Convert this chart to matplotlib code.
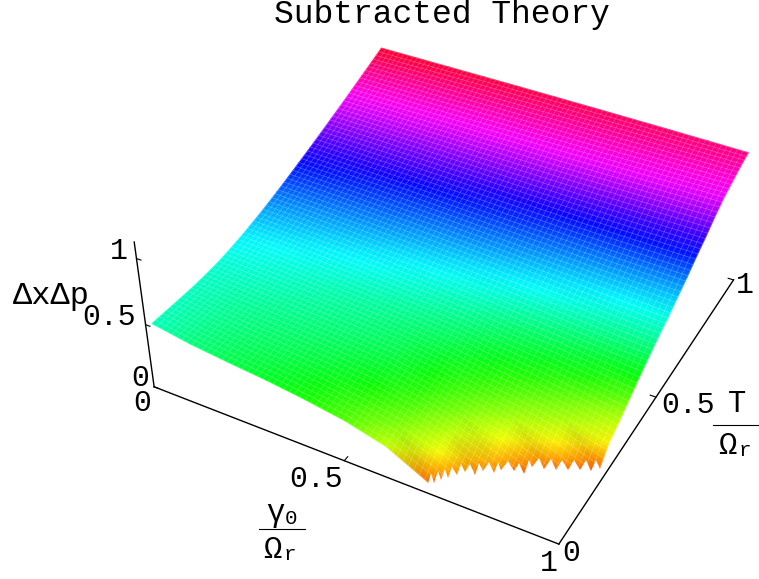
import numpy as np
import matplotlib
matplotlib.use("Agg")
import matplotlib.pyplot as plt
from matplotlib.collections import LineCollection
from matplotlib.colors import Normalize
from matplotlib.path import Path

plt.rcParams['font.family'] = ['Liberation Mono', 'DejaVu Sans']

gamma = [0, 0.1, 0.2, 0.3, 0.4, 0.5, 0.6, 0.7, 0.8, 0.9, 1]
temp = [0, 0.05, 0.1, 0.15, 0.2, 0.25, 0.3, 0.35, 0.4, 0.45, 0.5,
        0.55, 0.6, 0.65, 0.7, 0.75, 0.8, 0.85, 0.9, 0.95, 1]

# one row per temp value, one column per gamma value
dxdp = [
    [.500, .450, .415, .385, .345, .295, .215, .060, -.100, -.300, -.500],
    [.500, .458, .428, .400, .365, .320, .260, .170, .020, -.170, -.350],
    [.500, .466, .440, .418, .392, .355, .300, .220, .110, -.020, -.200],
    [.501, .475, .455, .435, .415, .385, .330, .260, .180, .050, -.070],
    [.507, .490, .473, .455, .435, .410, .360, .300, .235, .160, .030],
    [.518, .505, .490, .473, .453, .428, .390, .335, .285, .230, .160],
    [.537, .524, .509, .491, .471, .449, .420, .370, .330, .280, .220],
    [.561, .548, .533, .516, .497, .476, .450, .410, .380, .340, .290],
    [.589, .576, .561, .545, .527, .507, .486, .450, .425, .390, .360],
    [.621, .608, .594, .578, .561, .543, .523, .498, .472, .445, .420],
    [.656, .644, .630, .616, .600, .583, .565, .545, .523, .500, .480],
    [.694, .682, .669, .655, .640, .624, .607, .588, .568, .549, .530],
    [.733, .722, .710, .697, .683, .668, .652, .635, .618, .604, .590],
    [.773, .762, .751, .739, .726, .712, .698, .683, .669, .660, .650],
    [.815, .806, .796, .785, .774, .762, .751, .740, .732, .726, .720],
    [.858, .850, .841, .832, .822, .812, .803, .795, .789, .784, .780],
    [.901, .894, .887, .880, .873, .866, .860, .856, .853, .851, .850],
    [.946, .940, .934, .929, .924, .920, .917, .914, .912, .911, .910],
    [.991, .986, .981, .977, .973, .969, .965, .961, .958, .954, .950],
    [1.036, 1.032, 1.028, 1.024, 1.020, 1.016, 1.011, 1.006, 1.001, .996, .990],
    [1.082, 1.077, 1.072, 1.067, 1.062, 1.056, 1.050, 1.043, 1.036, 1.028, 1.020],
]

# where the surface stops at the bottom of the plot range (the teeth)
tip_gamma = [.702, .712, .721, .730, .743, .754, .777, .786, .810, .818,
             .843, .866, .871, .896, .920, .942, .964, .986, 1.0]
tip_temp = [.000, .006, .022, .034, .049, .065, .068, .086, .092, .109,
            .117, .121, .147, .155, .163, .174, .187, .196, .210]

z_ticks = [0, 0.5, 1]
gamma_ticks = [0.5]
temp_ticks = [0.5, 1]

# camera: (gamma, T, z) -> pixel, fitted on points
lo, hi = -.01, 1.01
pts3d = [(lo, lo, 0), (hi, lo, 0), (.5, lo, 0), (hi, 1, 0), (hi, .5, 0),
         (lo, lo, 1), (lo, lo, .5), (0, 0, .5), (0, 1, 1.082), (1, 1, 1.02), (1, .56, .54),
         (0, .35, .561), (0, .6, .733)]
pts2d = [(154, 387), (558, 546), (346, 459), (733, 279), (657, 397),
         (137, 258), (145, 323), (152, 322), (382, 47), (748, 153), (670, 313),
         (240, 240), (300, 163)]
rows = []
rhs = []
for (a, b, c), (u, v) in zip(pts3d, pts2d):
    rows.append([a, b, c, 1, 0, 0, 0, 0, -u*a, -u*b, -u*c])
    rows.append([0, 0, 0, 0, a, b, c, 1, -v*a, -v*b, -v*c])
    rhs += [u, v]
m = np.linalg.lstsq(np.array(rows, float), np.array(rhs, float), rcond=None)[0]


def project(a, b, c):
    a, b, c = np.asarray(a, float), np.asarray(b, float), np.asarray(c, float)
    w = m[8]*a + m[9]*b + m[10]*c + 1
    return (m[0]*a + m[1]*b + m[2]*c + m[3])/w, (m[4]*a + m[5]*b + m[6]*c + m[7])/w


fig = plt.figure(figsize=(7.59, 5.79), dpi=100)
ax = fig.add_axes([0, 0, 1, 1])
ax.set_xlim(0, 759)
ax.set_ylim(579, 0)
ax.axis("off")

G, T = np.meshgrid(gamma, temp)
Z = np.array(dxdp)
X, Y = project(G, T, Z)
surf = ax.pcolormesh(X, Y, Z, shading="gouraud", cmap="hsv", norm=Normalize(-0.02, 1.10), zorder=2)

# clip edge with teeth
edge_x = []
edge_y = []
for i in range(len(tip_gamma)):
    px, py = project(tip_gamma[i], tip_temp[i], 0.05)
    edge_x.append(float(px))
    edge_y.append(float(py))
    if i < len(tip_gamma) - 1:
        px, py = project((tip_gamma[i] + tip_gamma[i+1])/2, (tip_temp[i] + tip_temp[i+1])/2, 0.13)
        edge_x.append(float(px))
        edge_y.append(float(py))
verts = list(zip(edge_x, edge_y))
verts += [(800, edge_y[-1]), (800, -50), (-50, -50), (-50, 640), (edge_x[0], 640), (edge_x[0], edge_y[0])]
clip = Path(verts)
surf.set_clip_path(clip, ax.transData)

# faint mesh on the surface
segs = []
for v in np.linspace(0, 1, 76):
    zl = [np.interp(v, gamma, r) for r in Z]
    segs.append(np.column_stack(project(np.full(len(temp), v), temp, zl)))
    zl = [np.interp(v, temp, Z[:, j]) for j in range(len(gamma))]
    segs.append(np.column_stack(project(gamma, np.full(len(gamma), v), zl)))
mesh = LineCollection(segs, colors="white", linewidths=0.5, alpha=0.28, zorder=3)
ax.add_collection(mesh)
mesh.set_clip_path(clip, ax.transData)

# axes
axis_lines = [([lo, lo], [lo, lo], [0, 1.12]), ([lo, hi], [lo, lo], [0, 0]), ([hi, hi], [lo, 1], [0, 0])]
for a, b, c in axis_lines:
    px, py = project(a, b, c)
    ax.plot(px, py, color="black", lw=1.0, zorder=4)
for t in z_ticks:
    px, py = project([lo, lo + .012], [lo, lo], [t, t])
    ax.plot(px, py, color="black", lw=0.8, zorder=4)
for t in gamma_ticks:
    px, py = project([t, t], [lo, lo + .014], [0, 0])
    ax.plot(px, py, color="black", lw=0.8, zorder=4)
for t in temp_ticks:
    px, py = project([hi, hi - .014], [t, t], [0, 0])
    ax.plot(px, py, color="black", lw=0.8, zorder=4)

num = dict(fontsize=21.5, ha="center", va="center", color="black")
ax.text(119, 251, "1", **num)
ax.text(109, 317, "0.5", **num)
ax.text(140, 378, "0", **num)
ax.text(142, 403, "0", **num)
ax.text(316, 479, "0.5", **num)
ax.text(549, 563, "1", **num)
ax.text(571, 553, "0", **num)
ax.text(688, 405, "0.5", **num)
ax.text(745, 285, "1", **num)

ax.text(442, 23, "Subtracted Theory", fontsize=23.8, ha="center", va="baseline", color="black")

lab = dict(ha="center", va="center", color="black")
ax.text(51, 296, "ΔxΔp", fontsize=23, **lab)
# gamma0 / Omega_r fraction
ax.text(275, 513, "γ", fontsize=22, **lab)
ax.text(291, 518, "0", fontsize=15, **lab)
ax.plot([259, 305], [529, 529], color="black", lw=0.8)
ax.text(272, 550, "Ω", fontsize=22, **lab)
ax.text(290, 555, "r", fontsize=15, **lab)
# T / Omega_r fraction
ax.text(737, 404, "T", fontsize=22, **lab)
ax.plot([713, 758], [425, 425], color="black", lw=0.8)
ax.text(727, 446, "Ω", fontsize=22, **lab)
ax.text(745, 451, "r", fontsize=15, **lab)

fig.savefig("out.png", dpi=100)
